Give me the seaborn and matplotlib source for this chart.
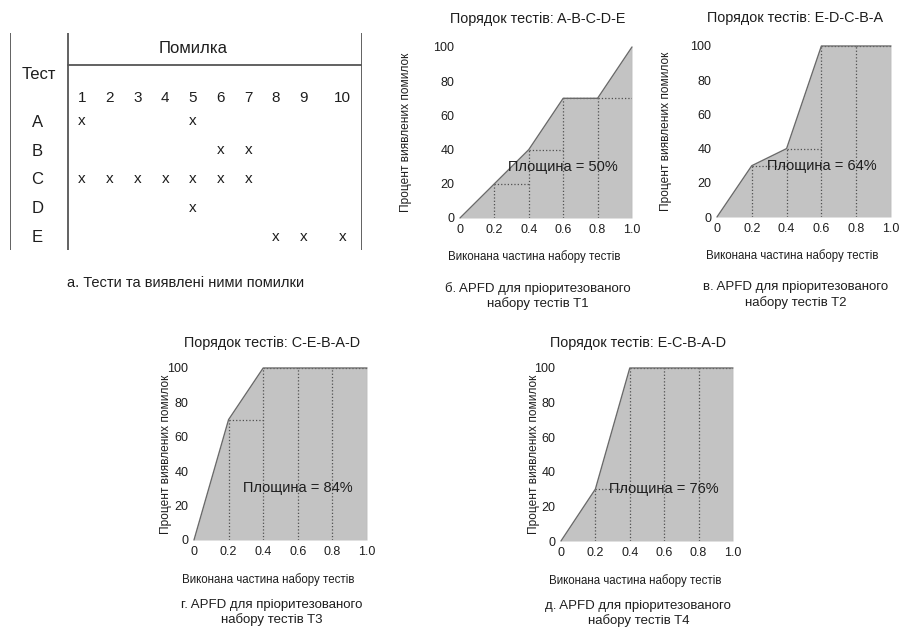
import matplotlib
matplotlib.use('Agg')
import matplotlib.pyplot as plt
import seaborn as sns

# table: which faults each test detects
tests = ['A', 'B', 'C', 'D', 'E']
fault_ids = [1, 2, 3, 4, 5, 6, 7, 8, 9, 10]
faults_A = [1, 5]
faults_B = [6, 7]
faults_C = [1, 2, 3, 4, 5, 6, 7]
faults_D = [5]
faults_E = [8, 9, 10]

# APFD curves
fraction = [0, 0.2, 0.4, 0.6, 0.8, 1.0]
pct_t1 = [0, 20, 40, 70, 70, 100]
pct_t2 = [0, 30, 40, 100, 100, 100]
pct_t3 = [0, 70, 100, 100, 100, 100]
pct_t4 = [0, 30, 100, 100, 100, 100]
areas = [50, 64, 84, 76]
orders = ['A-B-C-D-E', 'E-D-C-B-A', 'C-E-B-A-D', 'E-C-B-A-D']
captions = ['б. APFD для пріоритезованого\nнабору тестів T1',
            'в. APFD для пріоритезованого\nнабору тестів T2',
            'г. APFD для пріоритезованого\nнабору тестів T3',
            'д. APFD для пріоритезованого\nнабору тестів T4']
x_ticks = [0, 0.2, 0.4, 0.6, 0.8, 1.0]
x_tick_labels = ['0', '0.2', '0.4', '0.6', '0.8', '1.0']
y_ticks = [0, 20, 40, 60, 80, 100]

sns.set_theme(style='white')
plt.rcParams['font.family'] = ['Liberation Sans', 'DejaVu Sans']

W, H = 901, 631
fig = plt.figure(figsize=(W / 100, H / 100), dpi=100)
TXT = '#1e1e1e'
LINE = '#555555'


def px_axes(x0, y0, x1, y1):
    """axes from pixel box (top-left origin)"""
    return fig.add_axes([x0 / W, 1 - y1 / H, (x1 - x0) / W, (y1 - y0) / H])


# ---- table ----
axt = px_axes(10, 33, 362, 250)
axt.set_xlim(-1.6, 11.1)
axt.set_ylim(4.5, -3.0)
axt.axis('off')
for xv in [-1.6, 0.5, 11.1]:
    axt.axvline(xv, color=LINE, lw=1.3)
axt.plot([0.5, 11.1], [-1.9, -1.9], color=LINE, lw=1.3)
axt.text(5.0, -2.45, 'Помилка', ha='center', va='center', fontsize=12, color=TXT)
axt.text(-0.55, -1.55, 'Тест', ha='center', va='center', fontsize=12, color=TXT)
for f in fault_ids:
    axt.text(f + (0.4 if f == 10 else 0), -0.75, str(f), ha='center', va='center',
             fontsize=11, color=TXT)
for r, (t, found) in enumerate(zip(tests, [faults_A, faults_B, faults_C, faults_D, faults_E])):
    axt.text(-0.62, r + 0.08, t, ha='center', va='center', fontsize=12, color=TXT)
    for f in found:
        axt.text(f + (0.4 if f == 10 else 0), r + 0.05, 'x', ha='center', va='center',
                 fontsize=11, color=TXT)
axt.text(4.75, 5.64, 'а. Тести та виявлені ними помилки', ha='center', va='center',
         fontsize=10.5, color=TXT, clip_on=False)

# ---- APFD plots ----
boxes = [(460, 47, 632, 218), (717, 46, 891, 217), (194, 368, 367, 540), (561, 368, 733, 541)]
series = [pct_t1, pct_t2, pct_t3, pct_t4]
ylab_x = [-0.28, -0.26, -0.13, -0.12]
cap_y = [-0.455, -0.455, -0.42, -0.42]
title_y = [1.165, 1.165, 1.145, 1.145]

for i, (box, pct) in enumerate(zip(boxes, series)):
    ax = px_axes(*box)
    ax.fill_between(fraction, 0, pct, color='#c3c3c3', lw=0, zorder=1)
    sns.lineplot(x=fraction, y=pct, ax=ax, color='#6a6a6a', lw=1.0, zorder=3, clip_on=False)
    ax.plot([1.0, 1.0], [0, pct[-1]], color='#9a9a9a', lw=0.8, zorder=3)
    # dotted step guides
    for k in range(1, len(fraction) - 1):
        ax.plot([fraction[k], fraction[k]], [0, pct[k]], ls=':', color='#505050', lw=0.9, zorder=2)
        ax.plot([fraction[k], fraction[k + 1]], [pct[k], pct[k]], ls=':', color='#505050',
                lw=0.9, zorder=2)
    ax.set_xlim(0, 1)
    ax.set_ylim(0, 100)
    ax.set_xticks(x_ticks)
    ax.set_xticklabels(x_tick_labels)
    ax.set_yticks(y_ticks)
    ax.tick_params(axis='both', length=0, labelsize=9, colors=TXT, pad=4)
    for s in ax.spines.values():
        s.set_visible(False)
    ax.text(0.6, 30, f'Площина = {areas[i]}%', ha='center', va='center', fontsize=10.5,
            color=TXT, zorder=4)
    ax.text(0.45, title_y[i], f'Порядок тестів: {orders[i]}', transform=ax.transAxes,
            ha='center', va='center', fontsize=10.4, color=TXT)
    ax.set_xlabel('Виконана частина набору тестів', fontsize=8.3, color=TXT)
    ax.xaxis.set_label_coords(0.43, -0.19)
    ax.set_ylabel('Процент виявлених помилок', fontsize=8.6, color=TXT)
    ax.yaxis.set_label_coords(ylab_x[i], 0.5)
    ax.text(0.45, cap_y[i], captions[i], transform=ax.transAxes, ha='center', va='center',
            fontsize=9.5, color=TXT, linespacing=1.25)

fig.savefig('out.png', dpi=100)
